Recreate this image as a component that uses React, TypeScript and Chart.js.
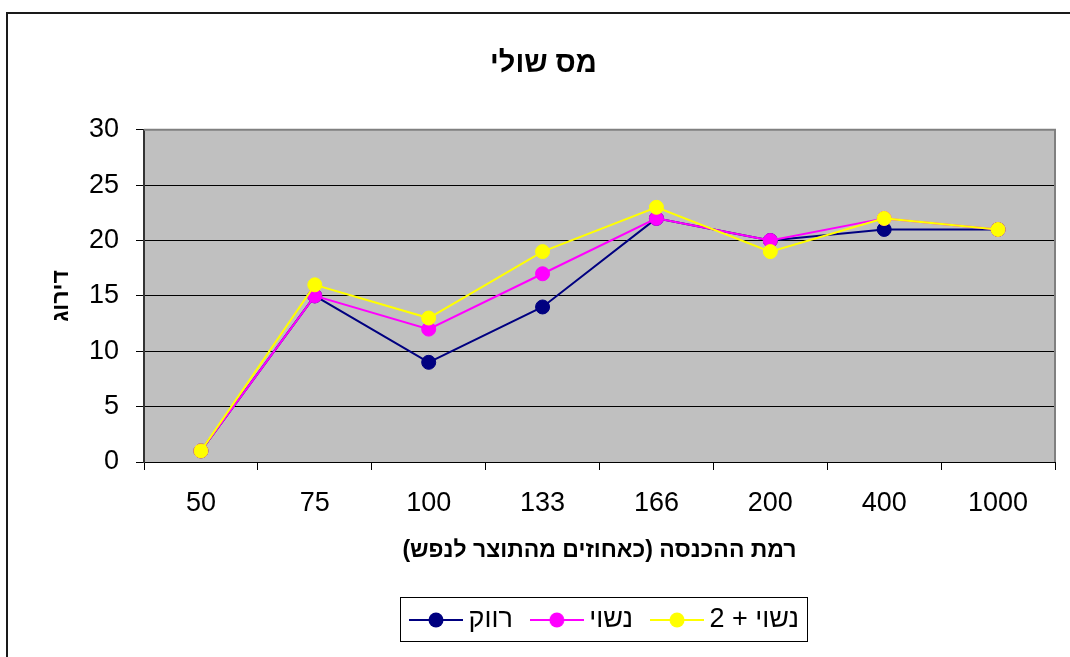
import React, { useEffect, useRef } from "react";
import { Chart, registerables } from "chart.js";

Chart.register(...registerables);

const categories = ["50", "75", "100", "133", "166", "200", "400", "1000"];
const singleValues = [1, 15, 9, 14, 22, 20, 21, 21];
const marriedValues = [1, 15, 12, 17, 22, 20, 22, 21];
const marriedTwoValues = [1, 16, 13, 19, 23, 19, 22, 21];
const seriesLabels = ["רווק", "נשוי", "נשוי + 2"];
const seriesColors = ["#000080", "#FF00FF", "#FFFF00"];
const chartTitle = "מס שולי";
const xTitle = "רמת ההכנסה (כאחוזים מהתוצר לנפש)";
const yTitle = "דירוג";
const yMin = 0;
const yMax = 30;
const yStep = 5;

const FONT = "'Liberation Sans', Arial, sans-serif";

function makeSample(color: string): HTMLCanvasElement {
  const c = document.createElement("canvas");
  c.width = 54;
  c.height = 16;
  const ctx = c.getContext("2d")!;
  ctx.strokeStyle = color;
  ctx.lineWidth = 2;
  ctx.beginPath();
  ctx.moveTo(0, 8);
  ctx.lineTo(54, 8);
  ctx.stroke();
  ctx.fillStyle = color;
  ctx.beginPath();
  ctx.arc(27, 8, 7.5, 0, Math.PI * 2);
  ctx.fill();
  return c;
}

const plotBackground = {
  id: "plotBackground",
  beforeDraw(chart: any) {
    const { ctx, chartArea: a } = chart;
    ctx.save();
    ctx.fillStyle = "#C0C0C0";
    ctx.fillRect(a.left, a.top, a.right - a.left, a.bottom - a.top);
    ctx.restore();
  },
  beforeDatasetsDraw(chart: any) {
    const { ctx, chartArea: a } = chart;
    ctx.save();
    ctx.strokeStyle = "#808080";
    ctx.lineWidth = 2;
    ctx.beginPath();
    ctx.moveTo(a.left, a.top);
    ctx.lineTo(a.right, a.top);
    ctx.lineTo(a.right, a.bottom);
    ctx.stroke();
    ctx.restore();
  },
};

const boxShift = {
  id: "boxShift",
  afterLayout(chart: any) {
    const lg = chart.legend;
    if (lg) {
      lg.left += 76;
      lg.right += 76;
    }
    const tb = chart.titleBlock;
    if (tb) {
      tb.left += 11.5;
      tb.right += 11.5;
    }
  },
  afterDraw(chart: any) {
    const lg = chart.legend;
    if (!lg || !lg.legendHitBoxes || !lg.legendHitBoxes.length) return;
    const hb = lg.legendHitBoxes;
    const first = hb[0];
    const last = hb[hb.length - 1];
    const left = first.left - 17;
    const right = last.left + last.width + 8;
    const cy = first.top + first.height / 2;
    const { ctx } = chart;
    ctx.save();
    ctx.strokeStyle = "#000";
    ctx.lineWidth = 1;
    ctx.strokeRect(Math.round(left) + 0.5, Math.round(cy - 23) + 0.5, Math.round(right - left), 44);
    ctx.restore();
  },
};

export default function App() {
  const canvasRef = useRef<HTMLCanvasElement | null>(null);

  useEffect(() => {
    const canvas = canvasRef.current;
    if (!canvas) return;
    const samples = seriesColors.map((c) => makeSample(c));
    const seriesData = [singleValues, marriedValues, marriedTwoValues];
    const chart = new Chart(canvas, {
      type: "line",
      data: {
        labels: categories,
        datasets: seriesData.map((d, i) => ({
          label: seriesLabels[i],
          data: d,
          borderColor: seriesColors[i],
          backgroundColor: seriesColors[i],
          pointBackgroundColor: seriesColors[i],
          pointBorderColor: seriesColors[i],
          pointRadius: 7,
          pointBorderWidth: 1,
          borderWidth: 2,
          tension: 0,
          fill: false,
          order: 2 - i,
        })),
      },
      plugins: [plotBackground, boxShift],
      options: {
        animation: false,
        responsive: false,
        maintainAspectRatio: false,
        devicePixelRatio: 1,
        font: { family: FONT },
        layout: { padding: { left: 0, right: 23, top: 0, bottom: 13.5 } },
        plugins: {
          tooltip: { enabled: false },
          title: {
            display: true,
            text: chartTitle,
            color: "#000",
            font: { family: FONT, size: 29, weight: "bold" },
            padding: { top: 33, bottom: 48 },
          },
          legend: {
            display: true,
            position: "bottom",
            align: "center",
            labels: {
              usePointStyle: true,
              pointStyleWidth: 38,
              padding: 25,
              color: "#000",
              font: { family: FONT, size: 27 },
              generateLabels: (ch: any) =>
                ch.data.datasets.map((ds: any, i: number) => ({
                  text: ds.label,
                  pointStyle: samples[i],
                  fillStyle: seriesColors[i],
                  strokeStyle: seriesColors[i],
                  lineWidth: 0,
                  hidden: false,
                  datasetIndex: i,
                  fontColor: "#000",
                })),
            },
          },
        },
        scales: {
          x: {
            type: "category",
            offset: true,
            grid: {
              offset: true,
              drawOnChartArea: false,
              color: "#000",
              tickLength: 8,
              lineWidth: 1,
            },
            border: { color: "#000", width: 1 },
            ticks: {
              color: "#000",
              font: { family: FONT, size: 27 },
              padding: 17,
              maxRotation: 0,
              autoSkip: false,
            },
            title: {
              display: true,
              text: xTitle,
              color: "#000",
              font: { family: FONT, size: 23, weight: "bold" },
              padding: { top: 0, bottom: 16.7 },
            },
            afterFit: (s: any) => {
              s.height = 119.5;
            },
          },
          y: {
            min: yMin,
            max: yMax,
            ticks: {
              stepSize: yStep,
              color: "#000",
              font: { family: FONT, size: 27 },
              padding: 17,
            },
            grid: { color: "#000", tickLength: 8, lineWidth: 1 },
            border: { color: "#333", width: 2 },
            title: {
              display: true,
              text: yTitle,
              color: "#000",
              font: { family: FONT, size: 23, weight: "bold" },
              padding: { top: 39, bottom: 0 },
            },
            afterFit: (s: any) => {
              s.width = 135;
            },
          },
        },
      },
    } as any);
    return () => chart.destroy();
  }, []);

  return (
    <div
      style={{
        position: "fixed",
        left: 0,
        top: 0,
        width: 1070,
        height: 657,
        overflow: "hidden",
        background: "#fff",
      }}
    >
      <div
        style={{
          position: "absolute",
          left: 6,
          top: 12,
          width: 1100,
          height: 700,
          border: "2px solid #1a1a1a",
        }}
      />
      <canvas
        ref={canvasRef}
        width={1069}
        height={643}
        dir="rtl"
        style={{
          position: "absolute",
          left: 9,
          top: 14,
          width: 1069,
          height: 643,
          direction: "rtl",
        }}
      />
    </div>
  );
}
